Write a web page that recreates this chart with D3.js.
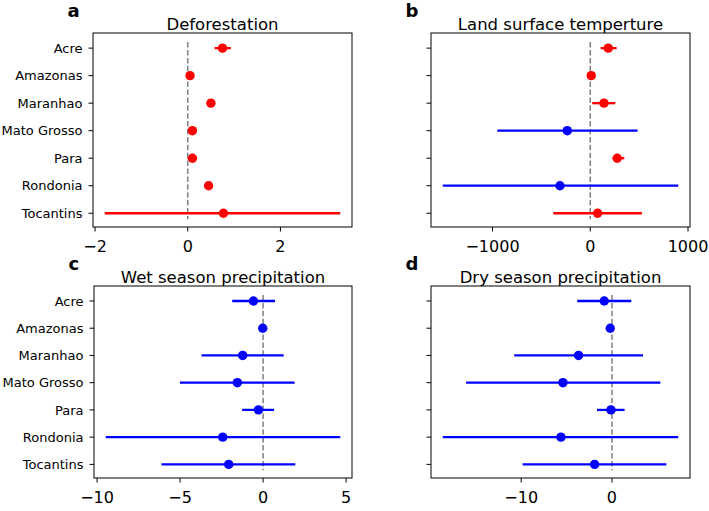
<!DOCTYPE html>
<html lang="en">
	<head>
		<meta charset="utf-8">
		<title>State effects</title>
		<script src="https://d3js.org/d3.v7.min.js"></script>
		<style type="text/css">
			body { margin: 0; background: #fff; }
			text { font-family: "DejaVu Sans", sans-serif; fill: #000; }
		</style>
	</head>
	<body>
		<script type="text/javascript">
			var width = 709;
			var height = 511;

			var states = ["Acre", "Amazonas", "Maranhao", "Mato Grosso", "Para", "Rondonia", "Tocantins"];

			// panel a: deforestation
			var defMean = [0.75, 0.05, 0.50, 0.10, 0.10, 0.45, 0.77];
			var defLow  = [0.58, 0.02, 0.47, 0.07, 0.07, 0.42, -1.79];
			var defHigh = [0.93, 0.08, 0.53, 0.13, 0.13, 0.48, 3.29];
			var defTicks = [-2, 0, 2];

			// panel b: land surface temperature
			var lstMean = [184, 10, 140, -235, 276, -310, 75];
			var lstLow  = [106, -8, 20, -951, 229, -1509, -378];
			var lstHigh = [270, 28, 256, 484, 348, 900, 529];
			var lstTicks = [-1000, 0, 1000];

			// panel c: wet season precipitation
			var wetMean = [-0.58, -0.02, -1.23, -1.55, -0.28, -2.43, -2.07];
			var wetLow  = [-1.86, -0.07, -3.71, -5.01, -1.26, -9.48, -6.12];
			var wetHigh = [0.72, 0.03, 1.24, 1.90, 0.66, 4.65, 1.94];
			var wetTicks = [-10, -5, 0, 5];

			// panel d: dry season precipitation
			var dryMean = [-0.85, -0.19, -3.68, -5.40, -0.11, -5.62, -1.91];
			var dryLow  = [-3.83, -0.25, -10.77, -16.07, -1.65, -18.64, -9.85];
			var dryHigh = [2.13, -0.13, 3.42, 5.33, 1.39, 7.30, 5.99];
			var dryTicks = [-10, 0];

			var panels = [
				{ letter: "a", title: "Deforestation", mean: defMean, low: defLow, high: defHigh, ticks: defTicks,
				  box: { left: 93, right: 352, top: 33, bottom: 227 }, labels: true },
				{ letter: "b", title: "Land surface temperture", mean: lstMean, low: lstLow, high: lstHigh, ticks: lstTicks,
				  box: { left: 431, right: 690, top: 33, bottom: 227 }, labels: false },
				{ letter: "c", title: "Wet season precipitation", mean: wetMean, low: wetLow, high: wetHigh, ticks: wetTicks,
				  box: { left: 94, right: 352, top: 286, bottom: 478 }, labels: true },
				{ letter: "d", title: "Dry season precipitation", mean: dryMean, low: dryLow, high: dryHigh, ticks: dryTicks,
				  box: { left: 431, right: 690, top: 286, bottom: 478 }, labels: false }
			];

			var svg = d3.select("body")
						.append("svg")
							.attr("width", width)
							.attr("height", height);

			panels.forEach(function(p) {
				var b = p.box;
				var lo = d3.min(p.low), hi = d3.max(p.high);
				var pad = (hi - lo) * 0.05;

				var x = d3.scaleLinear()
					.domain([lo - pad, hi + pad])
					.range([b.left, b.right]);

				var y = d3.scaleLinear()
					.domain([-0.55, 6.5])
					.range([b.top, b.bottom]);

				var g = svg.append("g");

				// zero line
				g.append("line")
					.attr("x1", x(0)).attr("x2", x(0))
					.attr("y1", y(-0.22)).attr("y2", y(6.22))
					.attr("stroke", "#808080")
					.attr("stroke-width", 1.5)
					.attr("stroke-dasharray", "5.5,2.4");

				var rows = states.map(function(s, i) {
					return { name: s, i: i, m: p.mean[i], l: p.low[i], h: p.high[i] };
				});

				g.selectAll("line.err")
					.data(rows)
					.enter()
					.append("line")
					.attr("class", "err")
					.attr("x1", function(d) { return x(d.l); })
					.attr("x2", function(d) { return x(d.h); })
					.attr("y1", function(d) { return y(d.i); })
					.attr("y2", function(d) { return y(d.i); })
					.attr("stroke", function(d) { return d.m >= 0 ? "#ff0000" : "#0000ff"; })
					.attr("stroke-width", 2.3);

				g.selectAll("circle")
					.data(rows)
					.enter()
					.append("circle")
					.attr("cx", function(d) { return x(d.m); })
					.attr("cy", function(d) { return y(d.i); })
					.attr("r", 4.7)
					.attr("fill", function(d) { return d.m >= 0 ? "#ff0000" : "#0000ff"; });

				// frame
				g.append("rect")
					.attr("x", b.left).attr("y", b.top)
					.attr("width", b.right - b.left)
					.attr("height", b.bottom - b.top)
					.attr("fill", "none")
					.attr("stroke", "#000")
					.attr("stroke-width", 1);

				// y ticks
				g.selectAll("line.ytick")
					.data(rows)
					.enter()
					.append("line")
					.attr("class", "ytick")
					.attr("x1", b.left - 4.5).attr("x2", b.left)
					.attr("y1", function(d) { return y(d.i); })
					.attr("y2", function(d) { return y(d.i); })
					.attr("stroke", "#000");

				if (p.labels) {
					g.selectAll("text.ylab")
						.data(rows)
						.enter()
						.append("text")
						.attr("class", "ylab")
						.attr("x", b.left - 10.5)
						.attr("y", function(d) { return y(d.i); })
						.attr("dy", "0.36em")
						.attr("text-anchor", "end")
						.attr("font-size", "13px")
						.text(function(d) { return d.name; });
				}

				// x ticks
				g.selectAll("line.xtick")
					.data(p.ticks)
					.enter()
					.append("line")
					.attr("class", "xtick")
					.attr("x1", function(d) { return x(d); })
					.attr("x2", function(d) { return x(d); })
					.attr("y1", b.bottom).attr("y2", b.bottom + 4.5)
					.attr("stroke", "#000");

				g.selectAll("text.xlab")
					.data(p.ticks)
					.enter()
					.append("text")
					.attr("class", "xlab")
					.attr("x", function(d) { return x(d); })
					.attr("y", b.bottom + 25)
					.attr("text-anchor", "middle")
					.attr("font-size", "16px")
					.text(function(d) { return d3.format("d")(d); });

				// title and panel letter
				g.append("text")
					.attr("x", (b.left + b.right) / 2)
					.attr("y", b.top - 3)
					.attr("text-anchor", "middle")
					.attr("font-size", "16.5px")
					.text(p.title);

				g.append("text")
					.attr("x", b.left - 25.5)
					.attr("y", b.top - 16)
					.attr("font-size", "18px")
					.attr("font-weight", "bold")
					.text(p.letter);
			});
		</script>
	</body>
</html>
